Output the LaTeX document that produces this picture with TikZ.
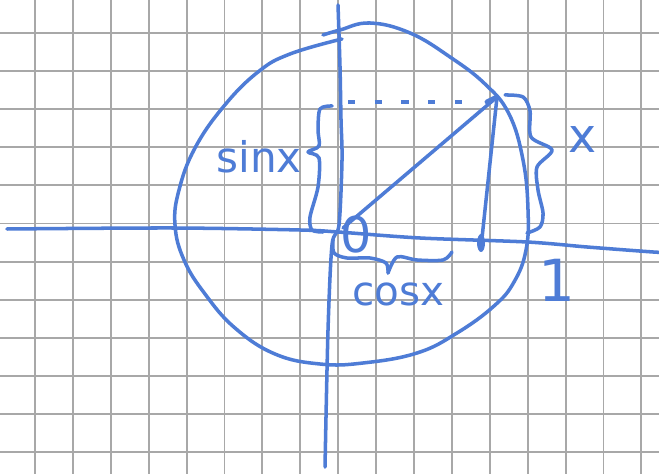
\documentclass[tikz,border=0pt]{standalone}
\usepackage{fontspec}
\setmainfont{DejaVu Sans}
\definecolor{penblue}{RGB}{78,124,214}
\definecolor{gridc}{RGB}{168,168,168}
\begin{document}
\begin{tikzpicture}[x=0.01cm,y=-0.01cm,
  pen/.style={draw=penblue,line width=1pt,line cap=round,line join=round},
  gridline/.style={draw=gridc,line width=0.55pt},
  lbl/.style={text=penblue,inner sep=0pt}]
\useasboundingbox (0,0) rectangle (659,474);
\fill[white] (0,0) rectangle (659,474);
% grid paper
\foreach \i in {0,...,16} \draw[gridline] ({35+37.9*\i},0) -- ({35+37.9*\i},474);
\foreach \j in {0,...,11} \draw[gridline] (0,{33+38.1*\j}) -- (659,{33+38.1*\j});
% key points
\coordinate (O) at (343,228);
\coordinate (P) at (497,97);
\coordinate (F) at (482,238);
\coordinate (D0) at (348,102);
\coordinate (D1) at (472,102);
% circle
\draw[pen] plot[smooth,tension=0.7] coordinates {(323,35) (340,30) (370,23) (410,33) (450,57) (485,84) (509,114) (523,160) (528,210) (526,250) (514,282) (494,306) (457,333) (417,353) (363,363) (320,364) (275,354) (235,328) (205,294) (184,260) (175,225) (179,190) (195,148) (224,106) (258,72) (290,54) (342,39)};
% axes
\draw[pen] plot[smooth,tension=0.5] coordinates {(7,229) (173,228) (300,230) (338,232) (420,238) (527,242) (587,247) (653,252) (659,252)};
\draw[pen] plot[smooth,tension=0.5] coordinates {(338,5) (340,67) (341,120) (342,160) (339,225) (332,245) (328,330) (325,467)};
% triangle
\draw[pen] (O) -- (P);
\draw[pen,line width=1.4pt] (487,102) -- (P);
\draw[pen] (P) -- (F);
\fill[fill=penblue] (481,243) ellipse [x radius=4, y radius=9];
\draw[pen,line cap=butt,dash pattern=on 2pt off 5.6pt] (D0) -- (D1);
% braces
\draw[pen] plot[smooth,tension=0.5] coordinates {(332,106) (320,109) (318,130) (319,146) (308,152) (319,158) (318,187) (310,217) (312,230) (323,232)};
\draw[pen] plot[smooth,tension=0.5] coordinates {(505,95) (523,97) (530,111) (531,137) (552,150) (537,167) (538,190) (543,213) (540,227) (527,233)};
\draw[pen] plot[smooth,tension=0.5] coordinates {(333,240) (334,253) (347,258) (370,258) (386,263) (388,273)};
\draw[pen] plot[smooth,tension=0.5] coordinates {(388,273) (397,257) (417,260) (443,260) (452,252)};
% labels
\node[lbl,font=\fontsize{14}{16}\selectfont] (zero) at (356,235) {0};
\node[lbl,font=\fontsize{12}{14}\selectfont] (sinx) at (259,157) {sinx};
\node[lbl,font=\fontsize{11.5}{14}\selectfont] (cosx) at (398,294) {cosx};
\node[lbl,font=\fontsize{13.5}{16}\selectfont] (xl) at (583,140) {x};
\node[lbl,font=\fontsize{16.5}{18}\selectfont] (one) at (557,280) {1};
\end{tikzpicture}
\end{document}
